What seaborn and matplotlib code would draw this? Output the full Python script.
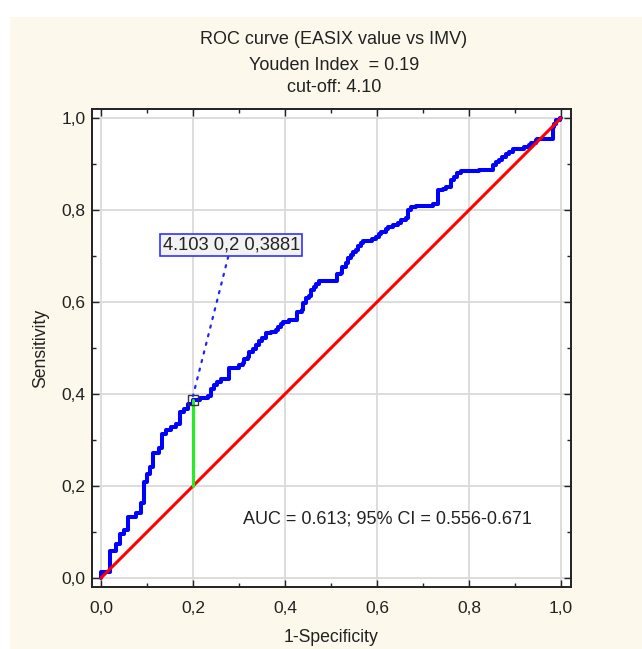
import matplotlib
matplotlib.use("Agg")
import matplotlib.pyplot as plt
from matplotlib.patches import Rectangle
from matplotlib.ticker import MultipleLocator, FuncFormatter
import seaborn as sns
import pandas as pd

# ---- data ----
fpr = [0.0, 0.0, 0.020, 0.033, 0.041, 0.049, 0.059, 0.076, 0.087, 0.093, 0.101,
       0.107, 0.112, 0.127, 0.133, 0.141, 0.152, 0.163, 0.172, 0.181, 0.190, 0.200,
       0.215, 0.232, 0.240, 0.246, 0.252, 0.261, 0.279, 0.299, 0.308, 0.312, 0.319,
       0.322, 0.330, 0.337, 0.344, 0.351, 0.359, 0.370, 0.380, 0.384, 0.391, 0.395,
       0.409, 0.426, 0.436, 0.440, 0.446, 0.453, 0.457, 0.464, 0.467, 0.475, 0.513,
       0.522, 0.525, 0.533, 0.536, 0.543, 0.547, 0.554, 0.558, 0.565, 0.569, 0.583,
       0.590, 0.598, 0.605, 0.609, 0.620, 0.623, 0.634, 0.645, 0.652, 0.663, 0.667,
       0.674, 0.685, 0.721, 0.732, 0.733, 0.743, 0.750, 0.761, 0.762, 0.768, 0.774,
       0.783, 0.822, 0.853, 0.859, 0.866, 0.873, 0.880, 0.888, 0.895, 0.920, 0.931,
       0.935, 0.946, 0.949, 0.982, 0.985, 0.989, 0.998, 1.0]
tpr = [0.0, 0.012, 0.059, 0.075, 0.096, 0.104, 0.132, 0.141, 0.164, 0.209, 0.226,
       0.242, 0.272, 0.282, 0.313, 0.322, 0.329, 0.335, 0.362, 0.367, 0.378, 0.388,
       0.391, 0.395, 0.412, 0.420, 0.426, 0.432, 0.456, 0.463, 0.467, 0.476, 0.481,
       0.492, 0.497, 0.507, 0.516, 0.521, 0.532, 0.536, 0.539, 0.546, 0.553, 0.557,
       0.562, 0.579, 0.583, 0.597, 0.608, 0.613, 0.626, 0.632, 0.639, 0.646, 0.661,
       0.664, 0.677, 0.686, 0.695, 0.702, 0.709, 0.714, 0.722, 0.729, 0.732, 0.734,
       0.737, 0.742, 0.749, 0.753, 0.758, 0.764, 0.767, 0.771, 0.778, 0.782, 0.800,
       0.807, 0.809, 0.813, 0.820, 0.843, 0.847, 0.851, 0.854, 0.865, 0.873, 0.880,
       0.885, 0.888, 0.898, 0.905, 0.910, 0.916, 0.923, 0.927, 0.932, 0.937, 0.941,
       0.946, 0.952, 0.955, 0.981, 0.988, 0.996, 1.0, 1.0]
ref_x = [0.0, 1.0]
ref_y = [0.0, 1.0]
cut_fpr = 0.2
cut_tpr = 0.3881
cut_value = 4.103
title_lines = ["ROC curve (EASIX value vs IMV)", "Youden Index  = 0.19", "cut-off: 4.10"]
auc_text = "AUC = 0.613; 95% CI = 0.556-0.671"
xlabel = "1-Specificity"
ylabel = "Sensitivity"

sns.set_style("ticks")
plt.rcParams["font.family"] = ["Liberation Sans", "DejaVu Sans"]

fig = plt.figure(figsize=(6.42, 6.49), dpi=100)
fig.patch.set_facecolor("white")
fig.add_artist(Rectangle((10 / 642, 0), 1, 1 - 17 / 649, transform=fig.transFigure,
                         facecolor="#FDF8EC", edgecolor="none", zorder=-10))

ax = fig.add_axes([92 / 642, 1 - 587 / 649, (571 - 92) / 642, (587 - 109) / 649])
ax.set_facecolor("white")

roc = pd.DataFrame({"fpr": fpr, "tpr": tpr})
sns.lineplot(data=roc, x="fpr", y="tpr", estimator=None, sort=False, ax=ax,
             color="#0000FF", linewidth=2.9, drawstyle="steps-post", zorder=4)
sns.lineplot(x=ref_x, y=ref_y, estimator=None, sort=False, ax=ax,
             color="#FF0000", linewidth=2.2, zorder=5)
sns.lineplot(x=[cut_fpr, cut_fpr], y=[cut_fpr, cut_tpr], estimator=None, sort=False,
             ax=ax, color="#22EE22", linewidth=2.2, zorder=6)
ax.plot([cut_fpr], [cut_tpr], marker="s", markersize=7, markerfacecolor="none",
        markeredgecolor="#333333", markeredgewidth=1.0, linestyle="none", zorder=7)

ax.annotate(f"{cut_value} {str(cut_fpr).replace('.', ',')} {str(cut_tpr).replace('.', ',')}",
            xy=(cut_fpr, cut_tpr + 0.008), xytext=(0.283, 0.724),
            ha="center", va="center", fontsize=13.2, color="#222222",
            bbox=dict(boxstyle="square,pad=0.13", facecolor="#F2F2F2",
                      edgecolor="#3333FF", linewidth=1.2),
            arrowprops=dict(arrowstyle="-", color="#2222FF", linestyle=(0, (1, 3)),
                            linewidth=1.6, shrinkA=0, shrinkB=0), zorder=8)

ax.text(0.622, 0.128, auc_text, ha="center", va="center", fontsize=13, color="#222222")

ax.set_xlim(-0.0196, 1.022)
ax.set_ylim(-0.0196, 1.02)
ax.xaxis.set_major_locator(MultipleLocator(0.2))
ax.yaxis.set_major_locator(MultipleLocator(0.2))
ax.xaxis.set_minor_locator(MultipleLocator(0.1))
ax.yaxis.set_minor_locator(MultipleLocator(0.1))
fmt = FuncFormatter(lambda v, p: f"{v:.1f}".replace(".", ","))
ax.xaxis.set_major_formatter(fmt)
ax.yaxis.set_major_formatter(fmt)
ax.tick_params(which="both", direction="in", top=True, right=True, color="#222222",
               labelsize=12.5, labelcolor="#222222")
ax.tick_params(which="major", length=5, width=1.0)
ax.tick_params(which="minor", length=3, width=1.0)
ax.tick_params(axis="x", which="major", pad=10)
ax.tick_params(axis="y", which="major", pad=4.5)
ax.grid(True, which="major", color="#DADADA", linewidth=1.3)
ax.set_axisbelow(True)
for s in ax.spines.values():
    s.set_color("#222222")
    s.set_linewidth(1.4)

ax.set_xlabel(xlabel, fontsize=12.7, color="#222222")
ax.set_ylabel(ylabel, fontsize=12.7, color="#222222")
ax.xaxis.label.set_va("center")
ax.yaxis.label.set_va("center")
ax.xaxis.set_label_coords(0.5, (587 - 637) / 478)
ax.yaxis.set_label_coords((41 - 92) / 479, 0.5)

cx = 334 / 642
for txt, ypx in zip(title_lines, [40, 65, 88]):
    fig.text(cx, 1 - ypx / 649, txt, ha="center", va="center", fontsize=13, color="#222222")

fig.savefig("out.png", dpi=100)
